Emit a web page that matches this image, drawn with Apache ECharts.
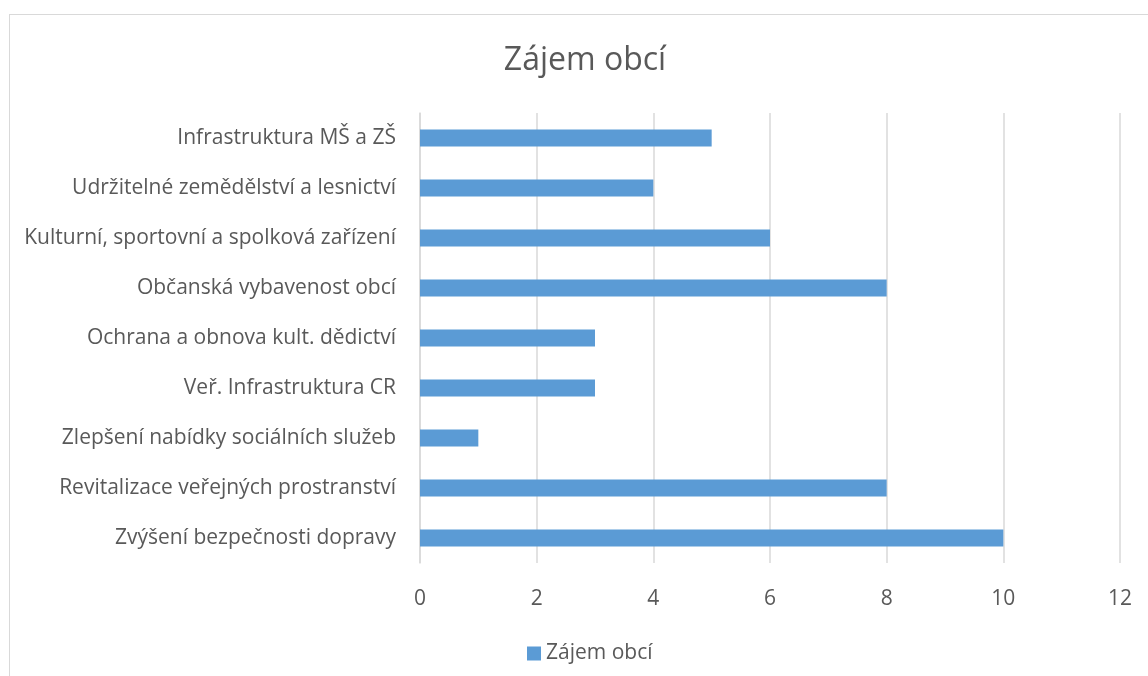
<!DOCTYPE html>
<html>
<head>
<meta charset="utf-8">
<script src="https://cdn.jsdelivr.net/npm/echarts@6/dist/echarts.min.js"></script>
<style>
  html, body { margin: 0; padding: 0; background: #fff; }
  #frame {
    position: absolute; left: 9px; top: 14px; width: 1200px; height: 700px;
    border: 1px solid #d9d9d9; box-sizing: border-box;
  }
  #chart { position: absolute; left: 0; top: 0; width: 1148px; height: 676px; }
</style>
</head>
<body>
<div id="frame"></div>
<div id="chart"></div>
<script>
  const categories = [
    'Infrastruktura MŠ a ZŠ',
    'Udržitelné zemědělství a lesnictví',
    'Kulturní, sportovní a spolková zařízení',
    'Občanská vybavenost obcí',
    'Ochrana a obnova kult. dědictví',
    'Veř. Infrastruktura CR',
    'Zlepšení nabídky sociálních služeb',
    'Revitalizace veřejných prostranství',
    'Zvýšení bezpečnosti dopravy'
  ];
  const values = [5, 4, 6, 8, 3, 3, 1, 8, 10];
  const seriesName = 'Zájem obcí';

  const font = '"Open Sans", "Noto Sans", sans-serif';
  const textColor = '#595959';

  const chart = echarts.init(document.getElementById('chart'));
  chart.setOption({
    animation: false,
    title: {
      text: 'Zájem obcí',
      left: 580,
      textAlign: 'center',
      top: 40,
      textStyle: { fontFamily: font, fontSize: 32, fontWeight: 'normal', color: textColor }
    },
    legend: {
      data: [seriesName],
      left: 522,
      top: 638,
      itemWidth: 14,
      itemHeight: 14,
      icon: 'rect',
      textStyle: { fontFamily: font, fontSize: 21, color: textColor }
    },
    grid: { left: 420, right: 28, top: 113, bottom: 113, containLabel: false },
    xAxis: {
      type: 'value',
      min: 0,
      max: 12,
      interval: 2,
      axisLine: { show: false },
      axisTick: { show: false },
      splitLine: { lineStyle: { color: '#d9d9d9', width: 1.5 } },
      axisLabel: { margin: 26, fontFamily: font, fontSize: 21, color: textColor }
    },
    yAxis: {
      type: 'category',
      inverse: true,
      data: categories,
      axisLine: { show: true, lineStyle: { color: '#d9d9d9', width: 1.5 } },
      axisTick: { show: false },
      axisLabel: { margin: 24, fontFamily: font, fontSize: 21, color: textColor }
    },
    series: [{
      name: seriesName,
      type: 'bar',
      data: values,
      barWidth: 17,
      itemStyle: { color: '#5b9bd5' }
    }]
  });
</script>
</body>
</html>
